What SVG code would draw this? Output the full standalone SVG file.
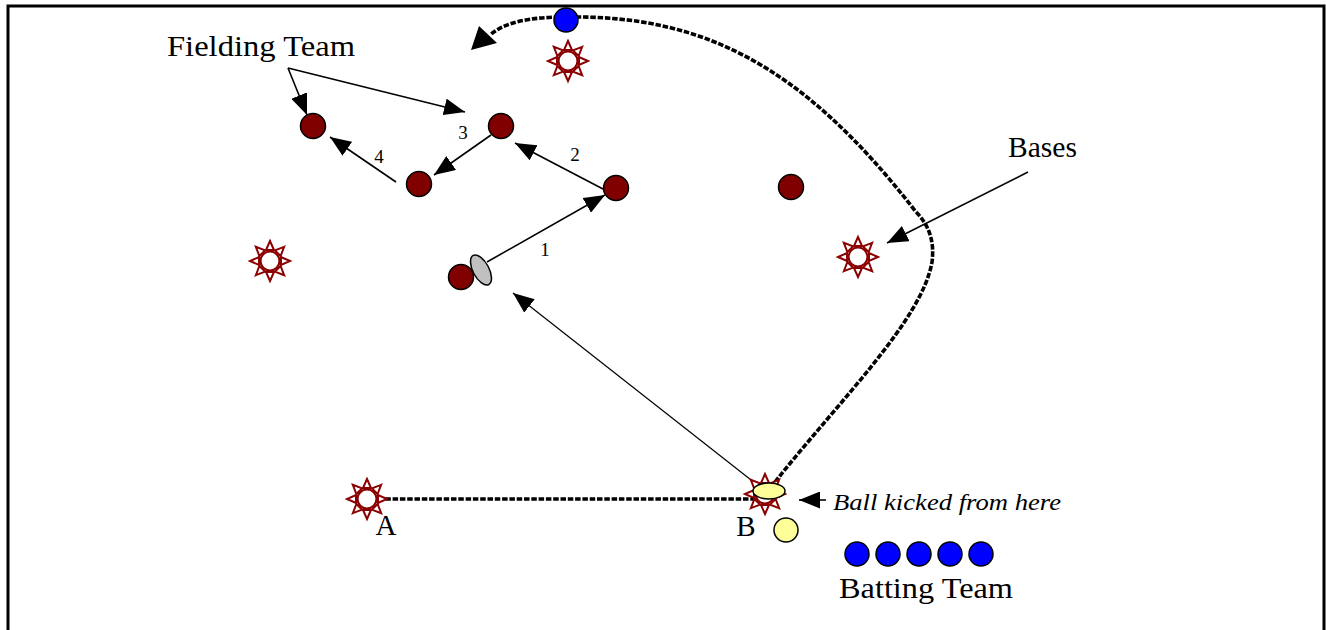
<svg xmlns="http://www.w3.org/2000/svg" xmlns:xlink="http://www.w3.org/1999/xlink" width="1326" height="630" viewBox="0 0 1326 630">
<style>
.frame{fill:none;stroke:#000;stroke-width:3}
.fielder{fill:#800000;stroke:#000;stroke-width:1.5}
.batter{fill:#0000FF;stroke:#000;stroke-width:1.5}
.ball{fill:#FFFF99;stroke:#000;stroke-width:1.5}
.arrow{fill:none;stroke:#000;stroke-width:1.6}
.thin{fill:none;stroke:#000;stroke-width:1.2}
.dash{fill:none;stroke:#000;stroke-width:3.6;stroke-dasharray:5.5 1.8}
.lbl{font-family:"Liberation Serif","Times New Roman",serif;font-size:29px;fill:#000}
.num{font-family:"Liberation Serif","Times New Roman",serif;font-size:19px;fill:#000;text-anchor:middle}
.ital{font-family:"Liberation Serif","Times New Roman",serif;font-size:24px;font-style:italic;fill:#000}
.ray{fill:#fff;stroke:#8B0000;stroke-width:2;stroke-linejoin:miter}
</style>
<defs>
<marker id="ah" viewBox="0 0 21 17" refX="21" refY="8.5" markerWidth="21" markerHeight="17" markerUnits="userSpaceOnUse" orient="auto">
<path d="M0,0 L21,8.5 L0,17 z" fill="#000"/>
</marker>
<g id="sun">
<polygon class="ray" points="0,-20 -4,-11 4,-11"/>
<polygon class="ray" points="0,-20 -4,-11 4,-11" transform="rotate(45)"/>
<polygon class="ray" points="0,-20 -4,-11 4,-11" transform="rotate(90)"/>
<polygon class="ray" points="0,-20 -4,-11 4,-11" transform="rotate(135)"/>
<polygon class="ray" points="0,-20 -4,-11 4,-11" transform="rotate(180)"/>
<polygon class="ray" points="0,-20 -4,-11 4,-11" transform="rotate(225)"/>
<polygon class="ray" points="0,-20 -4,-11 4,-11" transform="rotate(270)"/>
<polygon class="ray" points="0,-20 -4,-11 4,-11" transform="rotate(315)"/>
<circle r="9.5" fill="#fff" stroke="#8B0000" stroke-width="2.2"/>
</g>
</defs>
<rect width="1326" height="630" fill="#fff"/>
<path class="frame" d="M8,632 L8,6 L1324,6 L1324,632"/>

<g id="connectors">
<line class="dash" x1="378" y1="499" x2="762" y2="499"/>
<path class="dash" d="M775,482 C840,400 922,320 932,262 Q936,232 916,212 C800,62 700,15 566,17 C530,17 505,22 490,35"/>
<polygon points="471,50 479,26 497,43" fill="#000"/>
<line class="thin" x1="760" y1="487" x2="513" y2="293" marker-end="url(#ah)"/>
<line class="arrow" x1="487" y1="262" x2="605" y2="195" marker-end="url(#ah)"/>
<line class="arrow" x1="603" y1="189" x2="515" y2="143" marker-end="url(#ah)"/>
<line class="arrow" x1="491" y1="135" x2="434" y2="175" marker-end="url(#ah)"/>
<line class="arrow" x1="396" y1="182" x2="330" y2="137" marker-end="url(#ah)"/>
<line class="arrow" x1="288" y1="68" x2="307" y2="115" marker-end="url(#ah)"/>
<line class="arrow" x1="288" y1="68" x2="465" y2="112" marker-end="url(#ah)"/>
<line class="arrow" x1="1028" y1="172" x2="887" y2="243" marker-end="url(#ah)"/>
<line class="arrow" x1="826" y1="500" x2="799" y2="500" marker-end="url(#ah)"/>
</g>

<g id="base-top"><use xlink:href="#sun" x="568" y="61"/></g>
<g id="base-left"><use xlink:href="#sun" x="270" y="261"/></g>
<g id="base-right"><use xlink:href="#sun" x="858" y="257"/></g>
<g id="base-a"><use xlink:href="#sun" x="367" y="499"/><text class="lbl" x="386" y="535" text-anchor="middle">A</text></g>
<g id="base-b"><use xlink:href="#sun" x="765" y="494"/><text class="lbl" x="746" y="536" text-anchor="middle">B</text></g>

<g id="runner"><circle class="batter" cx="566" cy="20" r="12"/></g>

<g id="fielder-1"><circle class="fielder" cx="313" cy="126" r="12.5"/></g>
<g id="fielder-2"><circle class="fielder" cx="501" cy="126" r="12.5"/></g>
<g id="fielder-3"><circle class="fielder" cx="419" cy="184" r="12.5"/></g>
<g id="fielder-4"><circle class="fielder" cx="616" cy="188" r="12.5"/></g>
<g id="fielder-5"><circle class="fielder" cx="791" cy="187" r="12.5"/></g>
<g id="fielder-6"><circle class="fielder" cx="461" cy="277" r="12.5"/>
<ellipse cx="481" cy="270" rx="8" ry="16.5" transform="rotate(-28 481 270)" fill="#C0C0C0" stroke="#000" stroke-width="1.5"/></g>

<g id="kicked-ball"><ellipse class="ball" cx="769" cy="491" rx="16" ry="8"/></g>
<g id="ball-2"><circle class="ball" cx="786" cy="530" r="12"/></g>

<g id="batting-team">
<circle class="batter" cx="857" cy="554" r="12"/>
<circle class="batter" cx="888" cy="554" r="12"/>
<circle class="batter" cx="919" cy="554" r="12"/>
<circle class="batter" cx="950" cy="554" r="12"/>
<circle class="batter" cx="981" cy="554" r="12"/>
<text class="lbl" x="839" y="598" textLength="174" lengthAdjust="spacingAndGlyphs">Batting Team</text>
</g>

<g id="labels">
<text class="lbl" x="167" y="56" textLength="188" lengthAdjust="spacingAndGlyphs">Fielding Team</text>
<text class="lbl" x="1008" y="157" textLength="69" lengthAdjust="spacingAndGlyphs">Bases</text>
<text class="ital" x="833" y="510" textLength="228" lengthAdjust="spacingAndGlyphs">Ball kicked from here</text>
<text class="num" x="545" y="256">1</text>
<text class="num" x="575" y="161">2</text>
<text class="num" x="463" y="139">3</text>
<text class="num" x="379" y="163">4</text>
</g>
</svg>
